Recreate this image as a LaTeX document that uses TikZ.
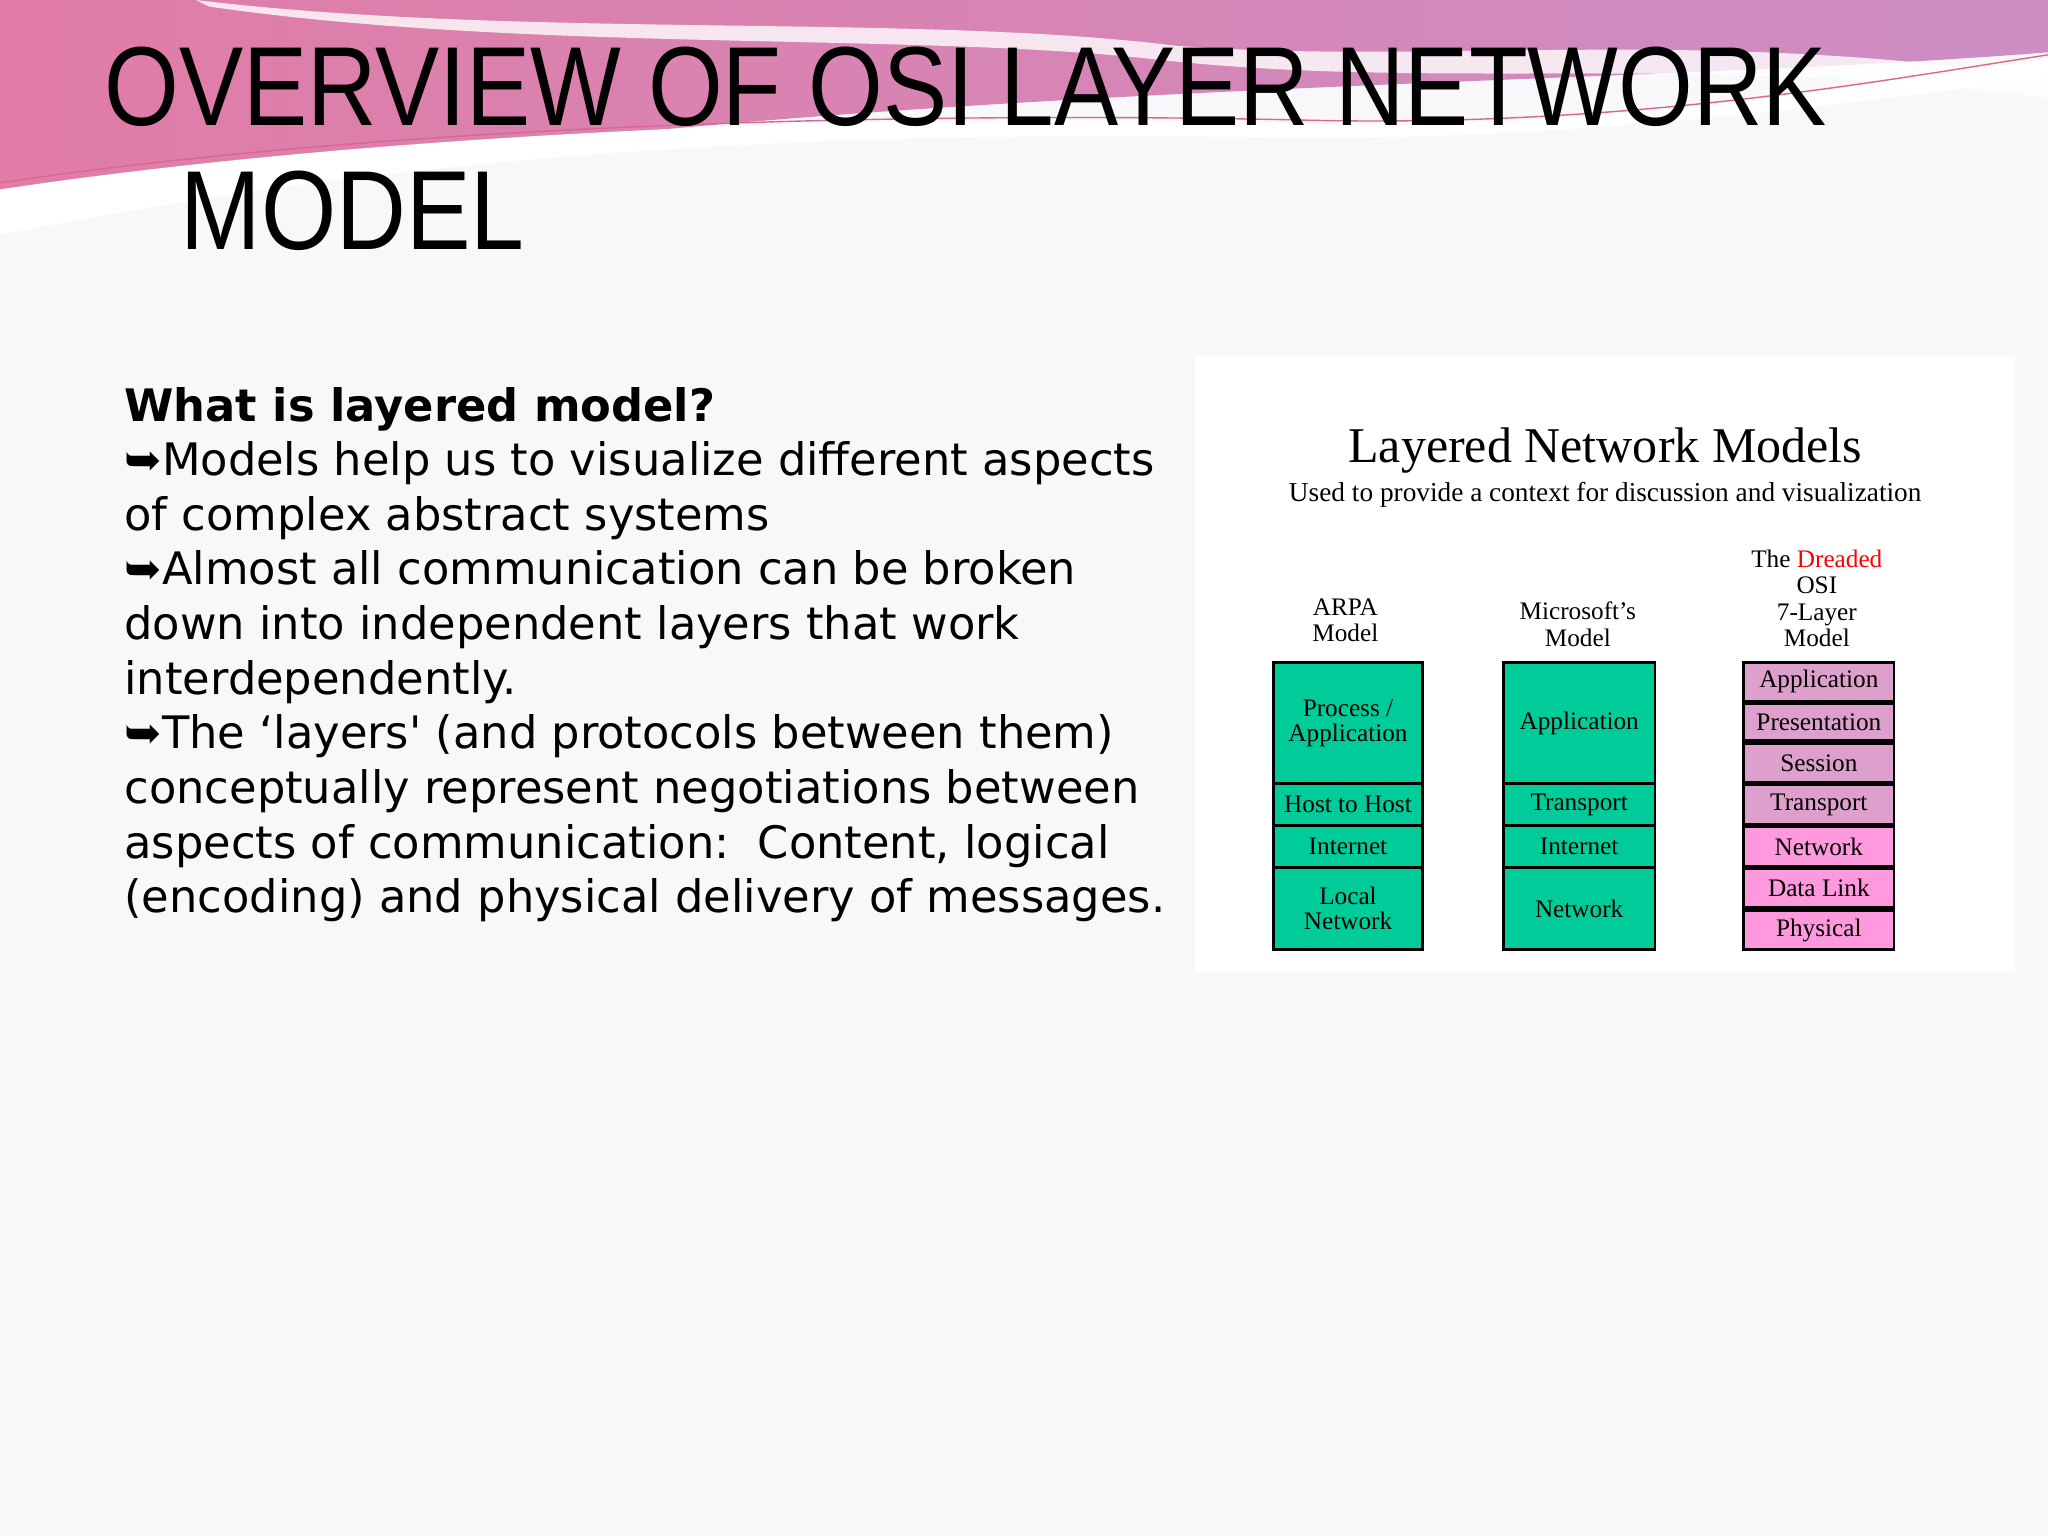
\documentclass[tikz,border=0pt]{standalone}
\usepackage{fontspec}
\setmainfont{Liberation Serif}
\newfontfamily\titlefont{Liberation Sans}
\newfontfamily\bodyfont{DejaVu Sans}
\usetikzlibrary{positioning}
\definecolor{bg}{HTML}{F8F7FA}
\definecolor{pinkA}{HTML}{E07CA6}
\definecolor{pinkB}{HTML}{CD8EC4}
\definecolor{grn}{HTML}{00CC99}
\definecolor{osiA}{HTML}{DD9FCB}
\definecolor{osiB}{HTML}{FF99DD}
\tikzset{
  lay/.style={draw=black,line width=1.2pt,anchor=north west,inner sep=0pt,align=center,
    font=\fontsize{11}{11}\selectfont},
  colhead/.style={align=center,font=\fontsize{11}{11.5}\selectfont},
}
\begin{document}
\begin{tikzpicture}[x=0.02cm,y=-0.02cm]
\useasboundingbox (0,0) rectangle (1568,1176);
\fill[bg] (0,0) rectangle (1568,1176);
% top wave
\shade[left color=pinkA,right color=pinkB] (0,0) -- (1568,0) -- (1568,40)
  .. controls (1200,70) and (500,60) .. (0,175) -- cycle;
\fill[white,opacity=0.8] (150,0) .. controls (400,30) and (700,10) .. (900,35)
  .. controls (1100,50) and (1300,20) .. (1568,60) -- (1568,75)
  .. controls (1300,40) and (1100,70) .. (880,45) .. controls (700,25) and (400,40) .. (160,5) -- cycle;
\fill[white] (0,145) .. controls (300,100) and (700,85) .. (1000,95)
  .. controls (1250,100) and (1450,60) .. (1568,45) -- (1568,60)
  .. controls (1400,80) and (1200,110) .. (950,105) .. controls (600,100) and (300,120) .. (0,180) -- cycle;
\draw[purple!60,line width=0.6pt] (0,140) .. controls (300,95) and (700,85) .. (1000,92) .. controls (1250,98) and (1450,60) .. (1568,42);
% title
\node[anchor=base west,inner sep=0pt,font=\titlefont\fontsize{49}{49}\selectfont] (t1) at (80,96) {\scalebox{0.855}[1]{OVERVIEW OF OSI LAYER NETWORK}};
\node[anchor=base west,inner sep=0pt,font=\titlefont\fontsize{49}{49}\selectfont] (t2) at (138,191) {\scalebox{0.86}[1]{MODEL}};
% body
\node[anchor=north west,inner sep=0pt,align=left,font=\bodyfont\fontsize{19.5}{23.8}\selectfont] (body) at (95,296) {%
\textbf{What is layered model?}\\
➥Models help us to visualize different aspects\\
of complex abstract systems\\
➥Almost all communication can be broken\\
down into independent layers that work\\
interdependently.\\
➥The ‘layers' (and protocols between them)\\
conceptually represent negotiations between\\
aspects of communication:\ \ Content, logical\\
(encoding) and physical delivery of messages.};
% panel
\fill[white] (915,272) rectangle (1543,745);
\node[font=\fontsize{21.8}{22}\selectfont] (ptitle) at (1229,345) {Layered Network Models};
\node[font=\fontsize{11.9}{12}\selectfont] (psub) at (1229,379) {Used to provide a context for discussion and visualization};
\node[colhead] (h1) at (1030,475) {ARPA\\Model};
\node[colhead] (h2) at (1208,478) {Microsoft’s\\Model};
\node[colhead] (h3) at (1391,458) {The \textcolor{red}{Dreaded}\\OSI\\7-Layer\\Model};
% ARPA
\node[lay,fill=grn,minimum width=2.28cm,minimum height=1.86cm] (a1) at (974,506) {Process /\\Application};
\node[lay,fill=grn,minimum width=2.28cm,minimum height=0.64cm] (a2) at (974,599) {Host to Host};
\node[lay,fill=grn,minimum width=2.28cm,minimum height=0.64cm] (a3) at (974,631) {Internet};
\node[lay,fill=grn,minimum width=2.28cm,minimum height=1.26cm] (a4) at (974,663) {Local\\Network};
% Microsoft
\node[lay,fill=grn,minimum width=2.32cm,minimum height=1.86cm] (m1) at (1150,506) {Application};
\node[lay,fill=grn,minimum width=2.32cm,minimum height=0.64cm] (m2) at (1150,599) {Transport};
\node[lay,fill=grn,minimum width=2.32cm,minimum height=0.64cm] (m3) at (1150,631) {Internet};
\node[lay,fill=grn,minimum width=2.32cm,minimum height=1.26cm] (m4) at (1150,663) {Network};
% OSI
\node[lay,fill=osiA,minimum width=2.3cm,minimum height=0.6cm] (o1) at (1334,506) {Application};
\node[lay,fill=osiA,minimum width=2.3cm,minimum height=0.56cm] (o2) at (1334,538) {Presentation};
\node[lay,fill=osiA,minimum width=2.3cm,minimum height=0.6cm] (o3) at (1334,568) {Session};
\node[lay,fill=osiA,minimum width=2.3cm,minimum height=0.6cm] (o4) at (1334,600) {Transport};
\node[lay,fill=osiB,minimum width=2.3cm,minimum height=0.6cm] (o5) at (1334,632) {Network};
\node[lay,fill=osiB,minimum width=2.3cm,minimum height=0.6cm] (o6) at (1334,664) {Data Link};
\node[lay,fill=osiB,minimum width=2.3cm,minimum height=0.6cm] (o7) at (1334,696) {Physical};
\end{tikzpicture}
\end{document}
